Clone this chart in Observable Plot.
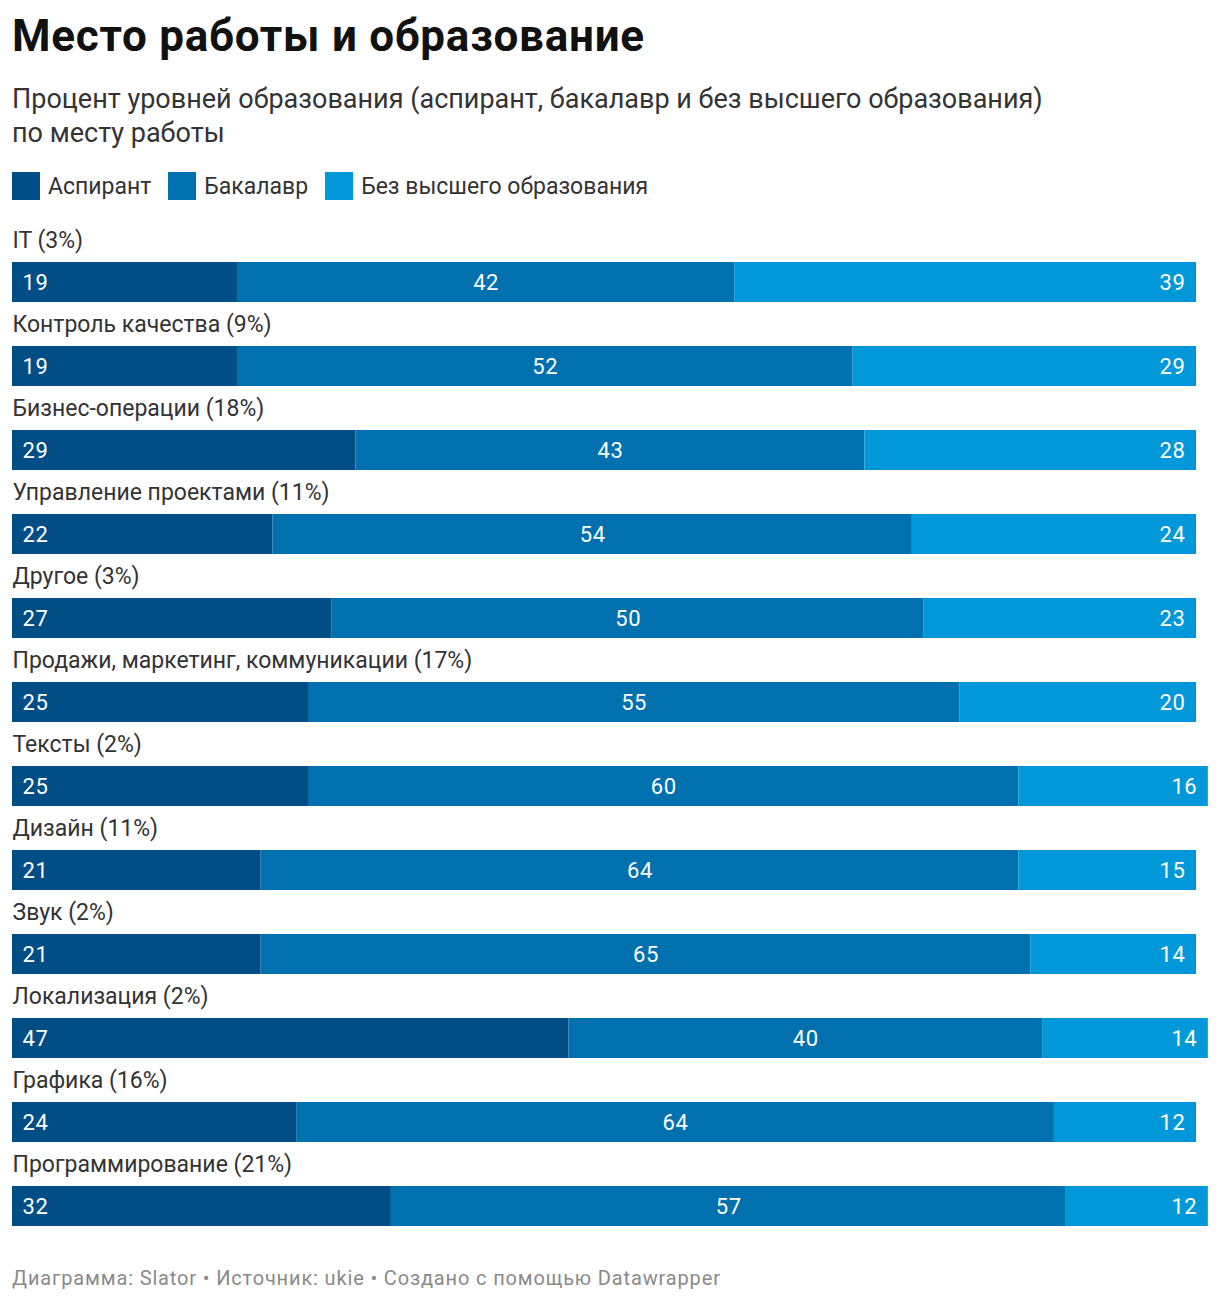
<!DOCTYPE html>
<html>
<head>
<meta charset="utf-8">
<script src="https://cdn.jsdelivr.net/npm/d3@7"></script>
<script src="https://cdn.jsdelivr.net/npm/@observablehq/plot@0.6"></script>
<style>
  html, body { margin: 0; padding: 0; background: #fff; }
  body { width: 1220px; height: 1302px; position: relative; font-family: Roboto, sans-serif; overflow: hidden; }
  .abs { position: absolute; left: 12px; white-space: nowrap; }
  #title { font-size: 44px; line-height: 44px; font-weight: 700; color: #111; letter-spacing: 0.75px; }
  #subtitle { font-size: 27px; line-height: 34px; color: #333; }
  #legend { display: flex; align-items: center; height: 28px; font-size: 23px; color: #333; }
  .sw { width: 28px; height: 28px; margin-right: 8px; }
  .li { display: flex; align-items: center; margin-right: 17px; }
  #footer { font-size: 20px; line-height: 20px; color: #8a8a8a; letter-spacing: 0.85px; }
  #chart { position: absolute; left: 0; top: 215px; }
</style>
</head>
<body>
<div id="title" class="abs" style="top:14px">Место работы и образование</div>
<div id="subtitle" class="abs" style="top:82px">Процент уровней образования (аспирант, бакалавр и без высшего образования)<br>по месту работы</div>
<div id="legend" class="abs" style="top:172px"></div>
<div id="chart"></div>
<div id="footer" class="abs" style="top:1268px">Диаграмма: Slator • Источник: ukie • Создано с помощью Datawrapper</div>
<script>
const categories = ["IT (3%)", "Контроль качества (9%)", "Бизнес-операции (18%)", "Управление проектами (11%)", "Другое (3%)", "Продажи, маркетинг, коммуникации (17%)", "Тексты (2%)", "Дизайн (11%)", "Звук (2%)", "Локализация (2%)", "Графика (16%)", "Программирование (21%)"];
const seriesNames = ["Аспирант", "Бакалавр", "Без высшего образования"];
const aspirant = [19, 19, 29, 22, 27, 25, 25, 21, 21, 47, 24, 32];
const bakalavr = [42, 52, 43, 54, 50, 55, 60, 64, 65, 40, 64, 57];
const bezVysshego = [39, 29, 28, 24, 23, 20, 16, 15, 14, 14, 12, 12];
const colors = ["#014d85", "#0070ae", "#0098d8"];

const seriesValues = [aspirant, bakalavr, bezVysshego];
const data = [];
categories.forEach((c, i) => {
  seriesNames.forEach((s, j) => data.push({cat: c, series: s, value: seriesValues[j][i]}));
});

// legend
const legend = document.getElementById("legend");
seriesNames.forEach((s, j) => {
  const item = document.createElement("div");
  item.className = "li";
  item.innerHTML = `<div class="sw" style="background:${colors[j]}"></div><span>${s}</span>`;
  legend.appendChild(item);
});

const common = {x: "value", y: "cat", z: "series"};
const valStyle = {fill: "white", fontSize: 22, style: "letter-spacing:0.6px"};
const chart = Plot.plot({
  width: 1220,
  height: 1030,
  marginLeft: 12,
  marginRight: 24,
  marginTop: 0,
  marginBottom: 0,
  style: {fontFamily: "Roboto, sans-serif", background: "transparent"},
  x: {domain: [0, 100], range: [12, 1196], axis: null},
  y: {domain: categories, range: [47, 1011], paddingInner: 44 / 84, paddingOuter: 0, align: 0, axis: null},
  color: {domain: seriesNames, range: colors},
  marks: [
    Plot.barX(data, Plot.stackX({...common, fill: "series", insetTop: 0, insetBottom: 0})),
    Plot.text(data, Plot.stackX1({...common, text: d => d.series === seriesNames[0] ? String(d.value) : null, textAnchor: "start", dx: 10, fill: "white", fontSize: 22})),
    Plot.text(data, Plot.stackX({...common, text: d => d.series === seriesNames[1] ? String(d.value) : null, textAnchor: "middle", fill: "white", fontSize: 22})),
    Plot.text(data, Plot.stackX2({...common, text: d => d.series === seriesNames[2] ? String(d.value) : null, textAnchor: "end", dx: -11, fill: "white", fontSize: 22})),
    Plot.text(categories, {y: d => d, text: d => d, frameAnchor: "left", textAnchor: "start", dy: -42, fill: "#333", fontSize: 23})
  ]
});
chart.querySelectorAll("text").forEach(t => { if (t.getAttribute("fill") === "white" || t.closest("[fill='white']")) t.style.letterSpacing = "0.6px"; });
document.getElementById("chart").appendChild(chart);
</script>
</body>
</html>
